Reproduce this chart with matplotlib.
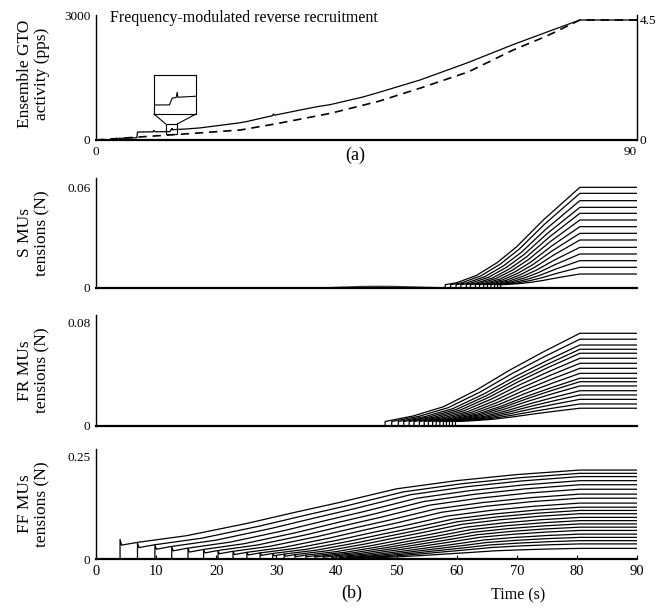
import numpy as np
import matplotlib
matplotlib.use("Agg")
import matplotlib.pyplot as plt
from matplotlib.patches import Rectangle, ConnectionPatch

plt.rcParams['font.family'] = ['Liberation Serif', 'DejaVu Serif']

# ---------- panel (a): ensemble GTO activity and muscle force ----------
gto_t = [0, 3.9, 3.9, 4.2, 6.8, 6.9, 7.2, 9.5, 9.6, 9.8, 12.3, 12.42, 12.6, 12.65, 12.68,
         15, 17.3, 20, 24, 25, 29.4, 29.5, 29.7, 36.4, 39, 44.4, 47, 53.9, 61.7,
         69.4, 75, 80.5, 90]
gto_pps = [0, 0, 45, 40, 55, 190, 192, 196, 230, 198, 200, 242, 245, 278, 247,
           265, 290, 340, 415, 440, 585, 625, 595, 790, 850, 1032, 1140, 1440, 1848,
           2290, 2590, 2880, 2880]
force_t = [0, 7, 15, 24, 30, 39, 47, 54, 62, 69.4, 75, 80.5, 90]
force_n = [0, 0.11, 0.23, 0.375, 0.61, 1.0, 1.45, 1.95, 2.56, 3.375, 3.9, 4.5, 4.5]

# ---------- panel (b): motor unit tensions ----------
t_plateau = 80.5
# S units
s_onset = [58.1, 59.0, 59.9, 60.7, 61.6, 62.3, 63.1, 63.8, 64.5, 65.1, 65.7, 66.3, 66.8, 67.3]
s_plateau = [0.0604, 0.0568, 0.0524, 0.0484, 0.0448, 0.0408, 0.0368, 0.0328, 0.0288,
             0.0244, 0.0204, 0.0164, 0.0124, 0.0084]
s_start = 0.002
s_u = [0, 0.085, 0.232, 0.384, 0.531, 0.728, 1.0]
s_g = [0, 0.02, 0.095, 0.225, 0.39, 0.664, 1.0]
s_hump_t = [38, 41, 44, 47, 50, 53, 56, 58]
s_hump_v = [0, 0.0004, 0.0008, 0.0009, 0.0008, 0.0005, 0.0002, 0]

# FR units
fr_onset = [48.1, 49.2, 50.3, 51.2, 52.1, 52.9, 53.8, 54.6, 55.3, 56.0, 56.6, 57.2,
            57.8, 58.3, 58.8, 59.3, 59.8]
fr_plateau = [0.072, 0.0674, 0.0629, 0.0596, 0.0565, 0.0526, 0.0487, 0.0448, 0.0409,
              0.0371, 0.0344, 0.0311, 0.0274, 0.0241, 0.0207, 0.0171, 0.0138]
fr_start = 0.0035
fr_u = [0, 0.145, 0.299, 0.469, 0.639, 0.812, 1.0]
fr_g = [0, 0.063, 0.167, 0.357, 0.582, 0.789, 1.0]

# FF units
ff_onset = [4.0, 6.9, 9.8, 12.6, 15.3, 17.9, 20.3, 22.8, 25.1, 27.3, 29.4, 31.3, 33.1,
            34.9, 36.4, 37.8, 39.2, 40.5, 41.7, 42.9, 44.0, 45.1]
ff_plateau = [0.218, 0.210, 0.202, 0.192, 0.182, 0.171, 0.159, 0.149, 0.137, 0.127,
              0.119, 0.111, 0.102, 0.094, 0.086, 0.078, 0.070, 0.061, 0.053, 0.045,
              0.037, 0.026]
ff_start = [0.034, 0.028, 0.024, 0.020, 0.017, 0.015, 0.013, 0.011, 0.010, 0.009,
            0.008, 0.007, 0.006, 0.0055, 0.005, 0.0045, 0.004, 0.0035, 0.003, 0.0028,
            0.0025, 0.0022]
ff_peak = [0.048, 0.039, 0.034, 0.029, 0.026, 0.023, 0.020, 0.018, 0.016, 0.015,
           0.013, 0.012, 0.011, 0.010, 0.009, 0.008, 0.007, 0.006, 0.0055, 0.005,
           0.0045, 0.004]
ff_u = [0, 0.039, 0.144, 0.275, 0.379, 0.471, 0.601, 0.732, 0.863, 1.0]
ff_g = [0, 0.038, 0.125, 0.288, 0.435, 0.56, 0.75, 0.859, 0.94, 1.0]

W, H = 657, 608


def px_box(x0, x1, ytop, ybot):
    return [x0 / W, 1 - ybot / H, (x1 - x0) / W, (ybot - ytop) / H]


def mu_curve(onset, start, plateau, u, g, peak=None):
    u = np.array(u)
    g = np.array(g)
    t = onset + u * (t_plateau - onset)
    v = start + (plateau - start) * g
    tt = [0, onset]
    vv = [0, 0]
    if peak is not None:
        tt += [onset, onset + 0.25]
        vv += [peak, start]
        t = t[1:]
        v = v[1:]
    tt += list(t) + [90]
    vv += list(v) + [plateau]
    return tt, vv


def style_axis(ax, ymax, ytick, ylabel):
    ax.set_xlim(0, 90)
    ax.set_ylim(0, ymax)
    ax.spines['top'].set_visible(False)
    ax.spines['right'].set_visible(False)
    ax.spines['left'].set_linewidth(1.0)
    ax.spines['bottom'].set_linewidth(1.6)
    ax.set_yticks([0, ytick])
    ax.set_yticklabels(['0', f'{ytick:g}'], fontsize=9.5)
    ax.tick_params(axis='y', length=0, pad=4)
    ax.set_ylabel(ylabel, fontsize=12.5, linespacing=1.05)
    ax.yaxis.set_label_coords(-0.085, 0.5)


fig = plt.figure(figsize=(6.57, 6.08), dpi=100)

# ---- (a) ----
ax_a = fig.add_axes(px_box(96, 637, 15, 140))
ax_a.plot(gto_t, gto_pps, color='black', lw=0.9)
style_axis(ax_a, 3000, 3000, 'Ensemble GTO\nactivity (pps)')
ax_a.yaxis.set_label_coords(-0.085, 0.53)
ax_a.set_xticks([0, 90])
ax_a.set_xticklabels(['0', '90'], fontsize=9.5)
ax_a.get_xticklabels()[1].set_ha('right')
ax_a.tick_params(axis='x', length=0, pad=4)
ax_r = ax_a.twinx()
ax_r.plot(force_t, force_n, color='black', lw=1.2, dashes=(5, 3.5))
ax_r.set_ylim(0, 4.5 * 3000 / 2880)
ax_r.spines['top'].set_visible(False)
ax_r.spines['left'].set_visible(False)
ax_r.spines['bottom'].set_visible(False)
ax_r.spines['right'].set_linewidth(1.0)
ax_r.set_yticks([0, 4.5])
ax_r.set_yticklabels(['0', '4.5'], fontsize=9.5)
ax_r.tick_params(axis='y', length=0, pad=2)
fig.text(110 / W, 1 - 18 / H, 'Frequency-modulated reverse recruitment',
         fontsize=11.5, va='center', ha='left')
fig.text(355 / W, 1 - 155 / H, '(a)', fontsize=13, ha='center', va='center')

# inset zoom of a recruitment step
ins = fig.add_axes(px_box(154, 196, 75, 114))
ins.plot(gto_t, gto_pps, color='black', lw=0.8)
ins.set_xlim(11.6, 13.5)
ins.set_ylim(144, 384)
ins.set_xticks([])
ins.set_yticks([])
for sp in ins.spines.values():
    sp.set_linewidth(0.8)
ax_a.add_patch(Rectangle((11.6, 144), 1.9, 240, fill=False, lw=0.8, ec='black'))
for xa, xb in [(0, 11.6), (1, 13.5)]:
    con = ConnectionPatch(xyA=(xa, 0), coordsA=ins.transAxes, xyB=(xb, 384),
                          coordsB=ax_a.transData, lw=0.8, color='black')
    fig.add_artist(con)

# ---- S MUs ----
ax_s = fig.add_axes(px_box(96, 637, 178, 288))
for on, pl in zip(s_onset, s_plateau):
    tt, vv = mu_curve(on, s_start, pl, s_u, s_g)
    ax_s.plot(tt, vv, color='black', lw=0.9)
ax_s.plot(s_hump_t, s_hump_v, color='0.25', lw=1.2)
style_axis(ax_s, 0.066, 0.06, 'S MUs\ntensions (N)')
ax_s.set_xticks([])

# ---- FR MUs ----
ax_fr = fig.add_axes(px_box(96, 637, 315, 426))
for on, pl in zip(fr_onset, fr_plateau):
    tt, vv = mu_curve(on, fr_start, pl, fr_u, fr_g)
    ax_fr.plot(tt, vv, color='black', lw=0.9)
style_axis(ax_fr, 0.0862, 0.08, 'FR MUs\ntensions (N)')
ax_fr.set_xticks([])

# ---- FF MUs ----
ax_ff = fig.add_axes(px_box(96, 637, 449, 559))
for on, st, pl, pk in zip(ff_onset, ff_start, ff_plateau, ff_peak):
    tt, vv = mu_curve(on, st, pl, ff_u, ff_g, peak=pk)
    ax_ff.plot(tt, vv, color='black', lw=0.9)
style_axis(ax_ff, 0.2696, 0.25, 'FF MUs\ntensions (N)')
ax_ff.set_xticks(range(0, 91, 10))
ax_ff.tick_params(axis='x', direction='in', length=3, labelsize=10.5, pad=4)
fig.text(352 / W, 1 - 593 / H, '(b)', fontsize=13, ha='center', va='center')
fig.text(518 / W, 1 - 595 / H, 'Time (s)', fontsize=11.5, ha='center', va='center')

fig.savefig('out.png', dpi=100)
